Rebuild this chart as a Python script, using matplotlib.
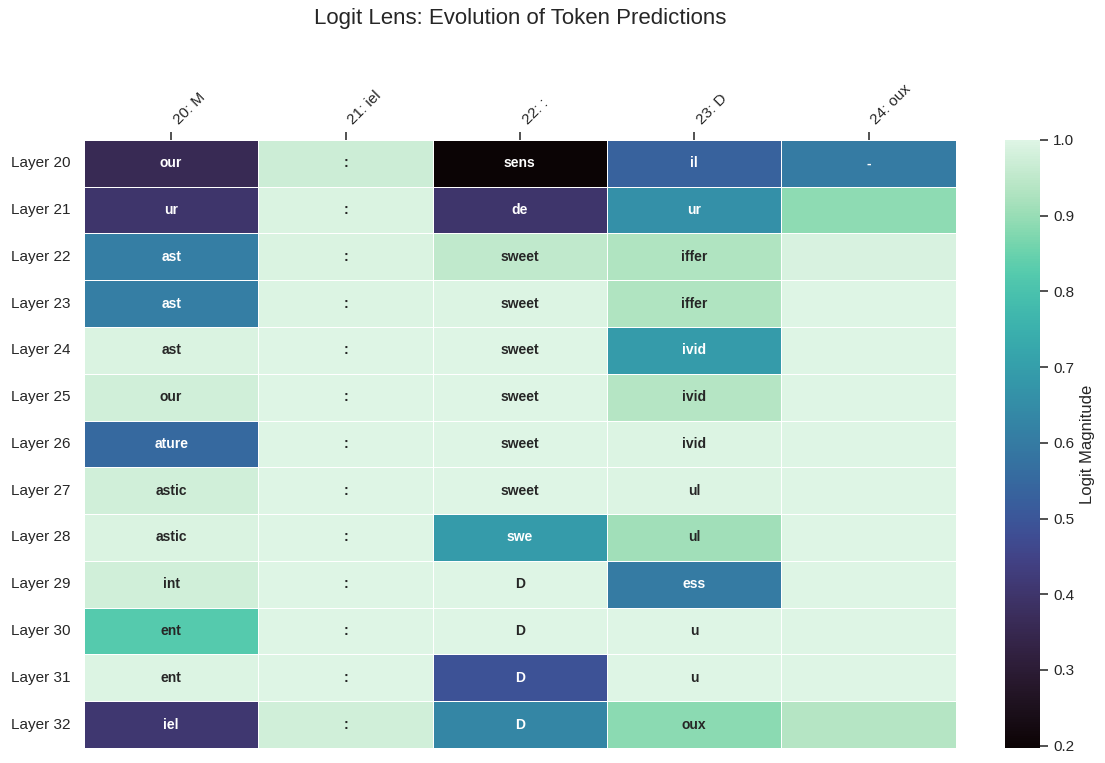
import numpy as np
import matplotlib
matplotlib.use('Agg')
import matplotlib.pyplot as plt
import seaborn as sns

# layers (rows) and token positions (columns)
layers = ['Layer %d' % i for i in range(20, 33)]
positions = ['20: M', '21: iel', '22: :', '23: D', '24: oux']

# top predicted token per layer / position
tokens = [
    ['our',   ':', 'sens',  'il',    '-'],
    ['ur',    ':', 'de',    'ur',    ''],
    ['ast',   ':', 'sweet', 'iffer', ''],
    ['ast',   ':', 'sweet', 'iffer', ''],
    ['ast',   ':', 'sweet', 'ivid',  ''],
    ['our',   ':', 'sweet', 'ivid',  ''],
    ['ature', ':', 'sweet', 'ivid',  ''],
    ['astic', ':', 'sweet', 'ul',    ''],
    ['astic', ':', 'swe',   'ul',    ''],
    ['int',   ':', 'D',     'ess',   ''],
    ['ent',   ':', 'D',     'u',     ''],
    ['ent',   ':', 'D',     'u',     ''],
    ['iel',   ':', 'D',     'oux',   ''],
]

# logit magnitude
magnitude = [
    [0.36,  0.970, 0.197, 0.53,  0.60],
    [0.40,  0.992, 0.40,  0.66,  0.888],
    [0.61,  0.992, 0.950, 0.928, 0.990],
    [0.61,  0.995, 0.995, 0.928, 0.997],
    [0.993, 0.997, 0.997, 0.69,  0.997],
    [0.978, 0.997, 0.997, 0.935, 0.997],
    [0.55,  0.997, 0.997, 0.995, 0.997],
    [0.978, 0.997, 0.997, 0.995, 0.997],
    [0.993, 0.997, 0.69,  0.912, 0.997],
    [0.978, 0.997, 0.997, 0.60,  0.997],
    [0.822, 0.997, 0.997, 0.997, 0.997],
    [0.995, 0.997, 0.49,  0.997, 0.997],
    [0.41,  0.978, 0.63,  0.885, 0.937],
]

sns.set_theme(style='white')
plt.rcParams['font.family'] = ['Liberation Sans', 'DejaVu Sans']

fig = plt.figure(figsize=(11.05, 7.63), dpi=100)
ax = fig.add_axes([0.076, 0.0197, 0.789, 0.797])
cax = fig.add_axes([0.9095, 0.0197, 0.0317, 0.797])

sns.heatmap(np.array(magnitude), annot=np.array(tokens), fmt='', cmap='mako',
            vmax=1.0, linewidths=0.5, linecolor='white',
            annot_kws={'fontsize': 10, 'fontweight': 'bold'},
            xticklabels=positions, yticklabels=layers,
            ax=ax, cbar_ax=cax, cbar_kws={'label': 'Logit Magnitude'})

ax.xaxis.tick_top()
ax.set_xticklabels(positions, rotation=45, ha='left', fontsize=11)
ax.set_yticklabels(layers, rotation=0, fontsize=11)
ax.tick_params(axis='x', length=6, width=1.2, color='#333333')
cax.tick_params(labelsize=11, length=6, width=1.2, color='#333333')
cax.yaxis.label.set_size(12)

fig.suptitle('Logit Lens: Evolution of Token Predictions', fontsize=16, x=0.4706, y=0.976, va='center')

fig.savefig('out.png', dpi=100)
